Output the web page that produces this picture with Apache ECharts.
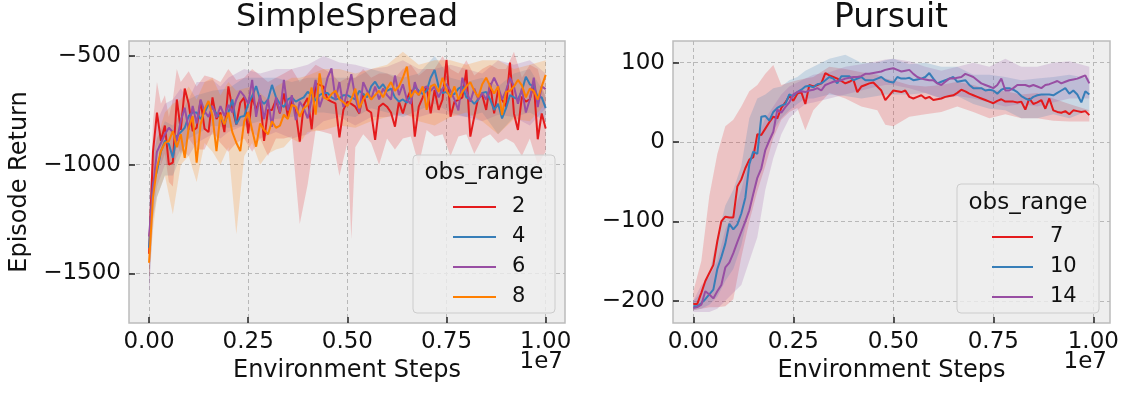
<!DOCTYPE html>
<html>
<head>
<meta charset="utf-8">
<script src="https://cdn.jsdelivr.net/npm/echarts@6/dist/echarts.min.js"></script>
<style>html,body{margin:0;padding:0;background:#fff}#c{width:1125px;height:393px}</style>
</head>
<body>
<div id="c"></div>
<script>
// ---------- DATA ----------
const STEP = 1e5; // environment steps between logged points
const xTicks = [0, 2.5e6, 5e6, 7.5e6, 1e7];
const yTicksSpread = [-1500, -1000, -500];
const yTicksPursuit = [-200, -100, 0, 100];
const spreadNames = ['2', '4', '6', '8'];
const pursuitNames = ['7', '10', '14'];

// SimpleSpread mean returns (obs_range 2,4,6,8), one value per STEP
const spread2 = [-1410,-940,-760,-890,-820,-1000,-990,-700,-840,-650,
 -720,-845,-830,-705,-835,-850,-690,-790,-760,-850,
 -640,-740,-815,-715,-690,-856,-687,-748,-693,-890,
 -748,-748,-702,-764,-672,-779,-702,-760,-894,-725,
 -693,-837,-626,-633,-641,-700,-710,-718,-874,-748,
 -710,-720,-733,-764,-672,-748,-760,-886,-733,-718,
 -733,-760,-825,-710,-764,-700,-656,-871,-733,-690,
 -641,-764,-656,-748,-700,-518,-779,-710,-702,-690,
 -564,-871,-779,-690,-679,-748,-626,-764,-656,-700,
 -733,-530,-764,-840,-687,-710,-700,-626,-883,-764,-833];
const spread4 = [-1382,-1090,-1030,-940,-890,-905,-968,-868,-850,-830,
 -776,-760,-760,-790,-760,-722,-738,-765,-780,-814,
 -760,-700,-814,-780,-776,-720,-684,-638,-700,-720,
 -700,-633,-690,-720,-735,-700,-690,-710,-700,-690,
 -665,-680,-705,-680,-670,-670,-690,-700,-695,-680,
 -680,-690,-700,-660,-675,-690,-640,-618,-650,-630,
 -660,-650,-690,-710,-700,-715,-680,-641,-660,-675,
 -660,-600,-564,-640,-670,-665,-680,-675,-650,-640,
 -690,-700,-720,-700,-670,-665,-700,-748,-720,-787,
 -740,-680,-690,-700,-660,-595,-630,-640,-690,-690,-740];
const spread6 = [-1330,-1105,-940,-900,-860,-830,-850,-891,-799,-738,
 -840,-730,-810,-700,-755,-780,-730,-784,-730,-775,
 -725,-760,-700,-661,-685,-720,-610,-780,-680,-790,
 -700,-826,-690,-760,-610,-750,-680,-795,-710,-740,
 -787,-700,-610,-735,-680,-600,-557,-700,-620,-735,
 -660,-584,-690,-760,-620,-660,-700,-640,-700,-650,
 -680,-700,-590,-680,-630,-700,-720,-620,-680,-650,
 -640,-660,-640,-690,-650,-630,-660,-700,-750,-600,
 -660,-710,-650,-700,-670,-700,-640,-600,-640,-700,
 -660,-600,-640,-720,-650,-760,-700,-600,-735,-640,-652];
const spread8 = [-1451,-1150,-1014,-937,-900,-891,-845,-920,-860,-968,
 -830,-776,-990,-815,-745,-707,-776,-937,-770,-815,
 -760,-850,-899,-937,-800,-760,-840,-917,-810,-840,
 -860,-800,-830,-820,-770,-790,-725,-733,-780,-740,
 -725,-645,-770,-580,-690,-700,-675,-660,-698,-713,
 -730,-700,-650,-740,-700,-670,-700,-680,-660,-690,
 -650,-620,-660,-640,-600,-549,-690,-660,-680,-640,
 -748,-640,-630,-665,-600,-660,-690,-640,-700,-665,
 -640,-620,-660,-690,-630,-600,-640,-672,-640,-772,
 -665,-660,-640,-610,-635,-690,-650,-660,-700,-640,-587];

// SimpleSpread confidence bands: positions (in STEPs), lower and upper edges
const spreadBand2X  = [0,1,2,3,4,5,6,7,8,10,12,14,16,18,20,22,24,26,28,30,32,34,36,38,40,42,44,46,48,50,51,52,54,56,58,60,62,64,66,68,70,72,74,76,78,80,82,84,86,88,90,92,94,96,98,100];
const spreadBand2Lo = [-1560,-1150,-900,-1000,-950,-1080,-1100,-900,-950,-880,-930,-930,-850,-900,-940,-900,-880,-940,-880,-960,-880,-880,-870,-1273,-1090,-840,-850,-860,-1052,-900,-1342,-920,-860,-900,-1000,-880,-930,-880,-870,-1000,-840,-870,-860,-960,-870,-860,-950,-880,-860,-900,-880,-900,-960,-880,-1000,-940];
const spreadBand2Hi = [-1300,-800,-620,-720,-680,-780,-700,-560,-620,-570,-640,-590,-600,-620,-560,-610,-600,-560,-590,-620,-600,-580,-560,-620,-580,-540,-560,-580,-620,-600,-600,-600,-560,-600,-580,-580,-600,-560,-540,-590,-560,-560,-500,-560,-580,-520,-590,-560,-540,-560,-560,-480,-600,-540,-560,-700];
const spreadBand4X  = [0,1,2,4,6,8,10,12,16,20,24,28,32,36,40,44,48,52,56,60,64,68,72,76,80,84,88,92,96,100];
const spreadBand4Lo = [-1560,-1250,-1150,-1050,-1050,-960,-880,-860,-820,-830,-820,-800,-790,-780,-760,-760,-770,-780,-740,-760,-780,-750,-720,-760,-780,-760,-860,-780,-760,-800];
const spreadBand4Hi = [-1250,-950,-880,-800,-820,-760,-700,-680,-660,-650,-600,-600,-600,-620,-600,-600,-600,-600,-560,-580,-600,-580,-500,-600,-620,-600,-640,-580,-560,-680];
const spreadBand6X  = [0,1,2,4,6,8,10,12,14,16,18,20,24,28,32,36,40,44,48,52,56,60,64,68,72,76,80,84,88,92,96,100];
const spreadBand6Lo = [-1620,-1250,-1100,-1000,-1000,-930,-960,-900,-880,-860,-880,-850,-820,-880,-850,-880,-860,-800,-780,-820,-780,-780,-770,-780,-760,-770,-780,-800,-770,-780,-820,-740];
const spreadBand6Hi = [-1150,-950,-800,-720,-700,-650,-700,-620,-620,-610,-640,-600,-560,-580,-560,-560,-540,-500,-530,-540,-560,-550,-520,-560,-560,-540,-560,-580,-520,-540,-520,-580];
const spreadBand8X  = [0,1,2,4,6,8,10,12,14,16,18,20,22,24,26,28,30,32,34,36,38,40,44,48,52,56,60,64,68,72,76,80,84,88,92,96,100];
const spreadBand8Lo = [-1520,-1300,-1150,-1050,-1228,-1000,-960,-1080,-900,-940,-1000,-920,-1320,-960,-900,-1000,-950,-930,-920,-880,-900,-850,-840,-820,-830,-800,-780,-760,-800,-820,-780,-760,-800,-860,-790,-800,-720];
const spreadBand8Hi = [-1380,-1000,-880,-760,-720,-700,-640,-700,-620,-600,-680,-620,-660,-650,-640,-670,-700,-640,-620,-600,-600,-590,-560,-560,-580,-560,-540,-480,-540,-520,-520,-540,-520,-520,-560,-540,-520];

// Pursuit mean returns (obs_range 7,10,14)
const pursuit7 = [-204,-204,-190,-175,-165,-155,-125,-100,-94,-95,
 -95,-56,-47,-33,-22,-19,10,9,17,25,
 32,30,43,50,58,52,61,63,48,72,
 70,72,74,87,84,82,80,77,74,76,
 79,63,70,72,74,75,70,65,53,59,
 65,64,63,65,57,55,57,59,55,57,
 53,54,55,57,58,59,62,66,64,61,
 59,57,55,53,51,49,52,54,51,51,
 51,50,51,41,55,48,50,53,42,55,
 40,38,37,39,35,40,39,38,39,34];
const pursuit10 = [-207,-207,-203,-198,-192,-186,-160,-145,-128,-103,
 -110,-104,-90,-70,-28,-12,-15,32,33,27,
 38,43,46,48,60,58,63,66,70,71,
 69,73,74,78,82,80,74,83,83,83,
 78,80,82,78,78,78,80,82,78,76,
 75,82,80,80,81,78,79,80,82,87,
 80,74,76,78,80,82,76,77,78,72,
 68,68,68,65,66,65,61,66,68,68,
 66,63,58,55,53,57,59,60,60,60,
 59,62,65,68,61,65,60,50,64,60];
const pursuit14 = [-209,-208,-205,-188,-192,-197,-188,-180,-158,-152,
 -140,-126,-113,-100,-86,-65,-45,-33,-10,2,
 13,41,37,44,50,60,63,64,63,65,
 66,68,65,72,74,76,77,78,80,81,
 82,82,83,86,86,87,88,89,91,92,
 93,91,89,90,91,86,82,80,79,78,
 78,74,72,76,80,80,81,82,86,84,
 82,78,74,72,70,68,72,80,65,65,
 68,72,72,72,70,72,70,68,72,73,
 75,77,74,76,78,79,80,82,84,74];

// Pursuit confidence bands
const pursuitBandX = [0,2,4,6,8,10,12,14,16,18,20,22,24,26,28,30,34,38,42,46,48,50,54,58,62,66,70,74,78,82,86,90,94,99];
const pursuitBand7Lo = [-212,-210,-208,-208,-207,-198,-145,-100,-62,-30,5,28,38,43,15,40,62,55,45,40,22,20,32,35,38,45,38,30,35,30,30,27,26,26];
const pursuitBand7Hi = [-188,-150,-68,-15,20,28,45,64,72,86,97,72,75,78,80,82,95,92,88,85,80,78,72,70,72,76,72,66,64,60,62,55,48,40];
const pursuitBand10Lo = [-212,-210,-205,-195,-175,-160,-130,-85,-50,-10,15,30,40,48,55,55,60,58,55,58,60,60,60,62,55,58,48,42,40,30,30,35,30,40];
const pursuitBand10Hi = [-200,-190,-165,-120,-80,-60,-30,30,55,60,68,70,78,82,90,95,105,110,100,100,103,105,98,100,95,95,85,85,82,78,80,82,85,80];
const pursuitBand14Lo = [-214,-214,-214,-210,-200,-190,-180,-150,-120,-60,-20,10,30,40,48,50,55,60,65,70,72,72,68,62,55,58,55,50,45,48,45,50,55,55];
const pursuitBand14Hi = [-200,-180,-170,-150,-110,-90,-60,-20,5,30,45,60,70,75,80,85,88,95,98,102,104,105,102,95,90,95,100,95,105,95,95,100,102,95];

// ---------- STYLE ----------
const COLORS = {'2':'#e41a1c','4':'#377eb8','6':'#984ea3','8':'#ff7f00','7':'#e41a1c','10':'#377eb8','14':'#984ea3'};
const FONT = 'DejaVu Sans';
const TXT = '#111111';
const TICK_FS = 23, NAME_FS = 24, LEG_FS = 21;

function pts(arr) { return arr.map((v, i) => [i * STEP, v]); }
function minus(v) { return String(v).replace('-', '\u2212'); }

function band(gi, xs, lo, hi, color) {
  return {
    type: 'custom', xAxisIndex: gi, yAxisIndex: gi, silent: true, z: 1, clip: true,
    data: [[xs[0] * STEP, lo[0]]],
    renderItem: function (params, api) {
      const p = [];
      for (let i = 0; i < xs.length; i++) p.push(api.coord([xs[i] * STEP, hi[i]]));
      for (let i = xs.length - 1; i >= 0; i--) p.push(api.coord([xs[i] * STEP, lo[i]]));
      return { type: 'polygon', shape: { points: p }, style: { fill: color, opacity: 0.2 } };
    }
  };
}
function line(gi, name, arr) {
  return {
    type: 'line', name: name, xAxisIndex: gi, yAxisIndex: gi, data: pts(arr),
    symbol: 'none', showSymbol: false, z: 3, animation: false,
    lineStyle: { width: 2, color: COLORS[name] }, itemStyle: { color: COLORS[name] }
  };
}
const gridLine = { show: true, lineStyle: { color: '#b8b8b8', type: [4, 3], width: 1 } };
function xAxis(gi, min, max) {
  return {
    type: 'value', gridIndex: gi, min: min, max: max,
    name: 'Environment Steps', nameLocation: 'middle', nameGap: 27,
    nameTextStyle: { fontFamily: FONT, fontSize: NAME_FS, color: TXT },
    axisLine: { show: false, onZero: false },
    axisTick: { show: true, inside: true, length: 6, customValues: xTicks, lineStyle: { color: '#222', width: 1.5 } },
    axisLabel: { customValues: xTicks, fontFamily: FONT, fontSize: TICK_FS, color: TXT, margin: 8,
      formatter: v => (v / 1e7).toFixed(2) },
    splitLine: gridLine
  };
}
function yAxis(gi, min, max, ticks, name) {
  return {
    type: 'value', gridIndex: gi, min: min, max: max,
    name: name, nameLocation: 'middle', nameGap: 97, nameRotate: 90,
    nameTextStyle: { fontFamily: FONT, fontSize: NAME_FS, color: TXT },
    axisLine: { show: false, onZero: false },
    axisTick: { show: true, inside: true, length: 6, customValues: ticks, lineStyle: { color: '#222', width: 1.5 } },
    axisLabel: { customValues: ticks, fontFamily: FONT, fontSize: TICK_FS, color: TXT, margin: 8, formatter: v => minus(v) },
    splitLine: gridLine
  };
}
function legend(names, left, top, w, gap) {
  return {
    data: names, orient: 'vertical', left: left, top: top, itemWidth: w, itemHeight: 2, itemGap: 8,
    icon: 'rect', z: 10, selectedMode: false,
    textStyle: { fontFamily: FONT, fontSize: LEG_FS, color: TXT, lineHeight: 22, padding: [0, 0, 0, gap] }
  };
}
function txt(x, y, s, size, align) {
  return { type: 'text', x: x, y: y, z: 20,
    style: { text: s, fontFamily: FONT, fontSize: size, fill: TXT, align: align || 'center', verticalAlign: 'middle' } };
}

const chart = echarts.init(document.getElementById('c'), null, { renderer: 'canvas' });
chart.setOption({
  animation: false,
  backgroundColor: '#ffffff',
  grid: [
    { left: 129, top: 41, width: 436, height: 282, show: true, backgroundColor: '#eeeeee', borderColor: '#bcbcbc', borderWidth: 1.5 },
    { left: 673, top: 41, width: 437, height: 282, show: true, backgroundColor: '#eeeeee', borderColor: '#bcbcbc', borderWidth: 1.5 }
  ],
  xAxis: [xAxis(0, -505000, 10487000), xAxis(1, -508000, 10417000)],
  yAxis: [yAxis(0, -1728, -431, yTicksSpread, 'Episode Return'), yAxis(1, -228, 127.4, yTicksPursuit, '')],
  legend: [legend(spreadNames, 448, 191, 43, 11), legend(pursuitNames, 987, 221, 41, 12)],
  graphic: [
    txt(347, 18, 'SimpleSpread', 32),
    txt(891, 18, 'Pursuit', 33),
    txt(563, 362, '1e7', TICK_FS, 'right'),
    txt(1107, 362, '1e7', TICK_FS, 'right'),
    { type: 'rect', z: 8, shape: { x: 413, y: 155, width: 142, height: 158, r: 4 },
      style: { fill: 'rgba(238,238,238,0.8)', stroke: '#cccccc', lineWidth: 1 } },
    { type: 'rect', z: 8, shape: { x: 957, y: 184, width: 142, height: 129, r: 4 },
      style: { fill: 'rgba(238,238,238,0.8)', stroke: '#cccccc', lineWidth: 1 } },
    txt(484, 173, 'obs_range', 23),
    txt(1028, 203, 'obs_range', 23)
  ],
  series: [
    band(0, spreadBand2X, spreadBand2Lo, spreadBand2Hi, COLORS['2']),
    band(0, spreadBand4X, spreadBand4Lo, spreadBand4Hi, COLORS['4']),
    band(0, spreadBand6X, spreadBand6Lo, spreadBand6Hi, COLORS['6']),
    band(0, spreadBand8X, spreadBand8Lo, spreadBand8Hi, COLORS['8']),
    band(1, pursuitBandX, pursuitBand7Lo, pursuitBand7Hi, COLORS['7']),
    band(1, pursuitBandX, pursuitBand10Lo, pursuitBand10Hi, COLORS['10']),
    band(1, pursuitBandX, pursuitBand14Lo, pursuitBand14Hi, COLORS['14']),
    line(0, '2', spread2), line(0, '4', spread4), line(0, '6', spread6), line(0, '8', spread8),
    line(1, '7', pursuit7), line(1, '10', pursuit10), line(1, '14', pursuit14)
  ]
});
</script>
</body>
</html>
